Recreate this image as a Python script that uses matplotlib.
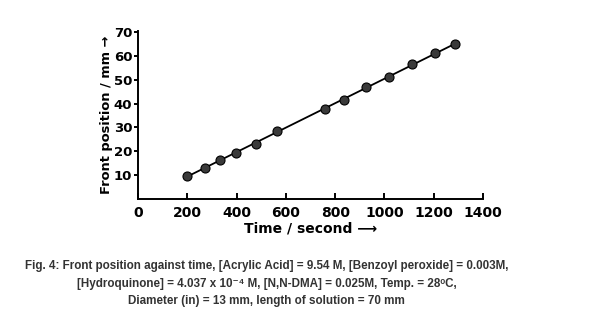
import numpy as np
import matplotlib
matplotlib.use("Agg")
import matplotlib.pyplot as plt

# front position readings
time_s = [200, 272, 333, 397, 477, 563, 758, 834, 927, 1020, 1113, 1206, 1286]
front_mm = [9.7, 13.2, 16.2, 19.3, 23.2, 28.6, 37.6, 41.4, 47.1, 51.3, 56.5, 61.2, 65.0]

x_ticks = [0, 200, 400, 600, 800, 1000, 1200, 1400]
y_ticks = [10, 20, 30, 40, 50, 60, 70]

caption = [
    "Fig. 4: Front position against time, [Acrylic Acid] = 9.54 M, [Benzoyl peroxide] = 0.003M,",
    "[Hydroquinone] = 4.037 x 10\u207b\u2074 M, [N,N-DMA] = 0.025M, Temp. = 28\u1d52C,",
    "Diameter (in) = 13 mm, length of solution = 70 mm",
]

fig = plt.figure(figsize=(5.93, 3.22), dpi=100)
ax = fig.add_axes([0.2327, 0.382, 0.5818, 0.522])

# straight line through the points
k, b = np.polyfit(time_s, front_mm, 1)
xl = np.array([time_s[0], time_s[-1]])
ax.plot(xl, k * xl + b, color="black", lw=1.3, zorder=2)
ax.plot(time_s, front_mm, "o", ms=6.5, mfc="#3a3a3a", mec="black", mew=0.8, zorder=3)

ax.set_xlim(0, 1400)
ax.set_ylim(0, 70.5)
ax.spines["top"].set_visible(False)
ax.spines["right"].set_visible(False)
for s in ("left", "bottom"):
    ax.spines[s].set_linewidth(1.4)

ax.set_xticks(x_ticks)
ax.set_yticks(y_ticks)
ax.tick_params(axis="x", direction="in", length=4, width=1.4, pad=5, labelsize=10)
ax.tick_params(axis="y", direction="out", length=3, width=1.4, pad=1, labelsize=9.5)
for lab in ax.get_xticklabels() + ax.get_yticklabels():
    lab.set_fontweight("bold")

ax.set_xlabel("Time / second \u27f6", fontsize=10, fontweight="bold", labelpad=1)
ax.set_ylabel("Front position / mm \u2192", fontsize=9.4, fontweight="bold", labelpad=1)

for i, line in enumerate(caption):
    fig.text(0.4495, 0.174 - i * 0.055, line, ha="center", va="center",
             fontsize=8.4, fontweight="bold", color="#333333",
             family=["Liberation Sans", "DejaVu Sans"])

fig.savefig("out.png", dpi=100)
